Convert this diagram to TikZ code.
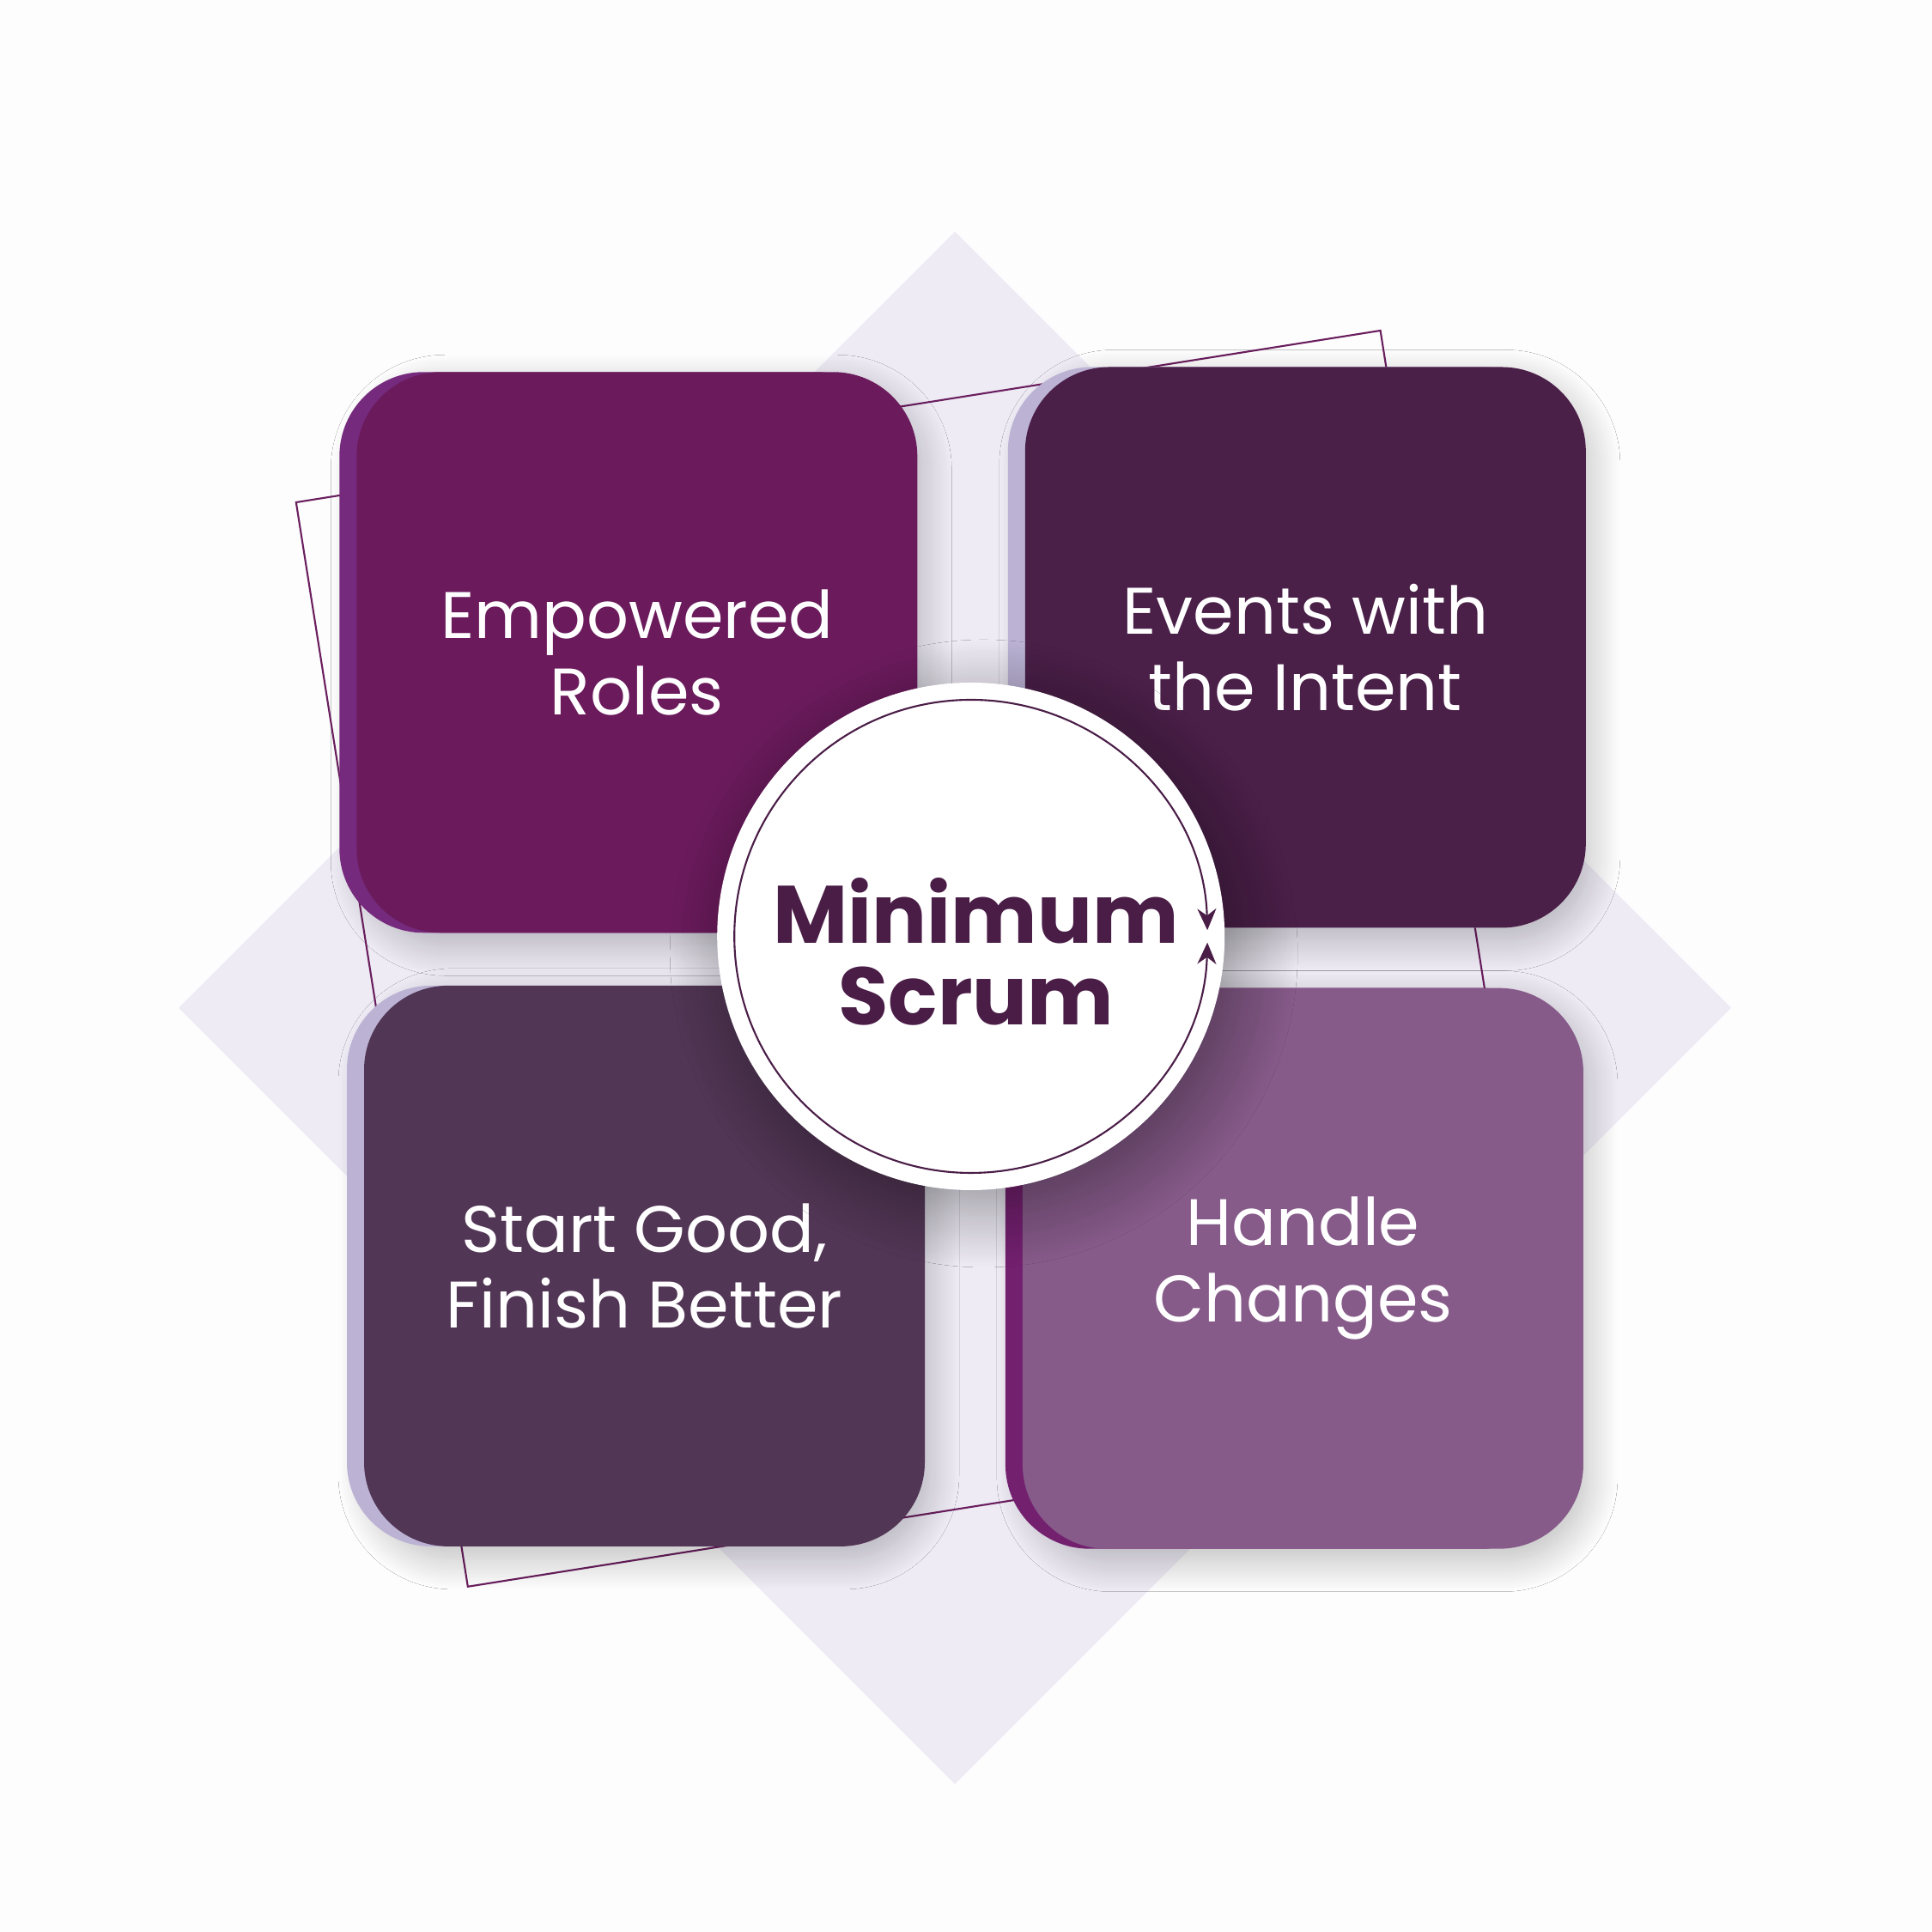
\documentclass[tikz,border=0pt]{standalone}
\usepackage{fontspec}
\setmainfont{Poppins}
\usetikzlibrary{shadows,shadows.blur,arrows.meta}

\definecolor{paper}{HTML}{FDFDFD}
\definecolor{diamondfill}{HTML}{EEEBF5}
\definecolor{frameline}{HTML}{6A1E5E}
\definecolor{corepurple}{HTML}{4A1D47}
\definecolor{rolesfill}{HTML}{6B1B5C}
\definecolor{rolesback}{HTML}{762A7D}
\definecolor{eventsfill}{HTML}{4A1F48}
\definecolor{eventsback}{HTML}{BBB2D4}
\definecolor{startfill}{HTML}{523655}
\definecolor{startback}{HTML}{BBB2D4}
\definecolor{changefill}{HTML}{865A89}
\definecolor{changeback}{HTML}{73206F}

\tikzset{
  card/.style={rectangle, rounded corners=0.98cm, minimum width=6.53cm,
    minimum height=6.53cm, text=white, align=center,
    font=\fontsize{21.8}{25.2}\selectfont,
    blur shadow={shadow xshift=0.5mm, shadow yshift=-1.5mm,
      shadow blur radius=3.5mm, shadow blur steps=20, shadow opacity=25}},
  backcard/.style={general shadow={fill=#1, shadow xshift=-2mm,
      shadow yshift=0mm}},
}

\begin{document}
\begin{tikzpicture}
  \fill[paper] (0,0) rectangle (22.5,22.5);
  \useasboundingbox (0,0) rectangle (22.5,22.5);
  % background shapes
  \fill[diamondfill] (11.121,19.802) -- (20.161,10.762) -- (11.121,1.722)
    -- (2.081,10.762) -- cycle;
  \node[draw=frameline, line width=0.6pt, minimum size=12.785cm,
    rotate=9] (frame) at (10.762,11.336) {};
  % the four cards
  \node[card, fill=rolesfill, backcard=rolesback] (roles)
    at (7.418,14.902) {Empowered\\Roles};
  \node[card, fill=eventsfill, backcard=eventsback] (events)
    at (15.203,14.960) {Events with\\the Intent};
  \node[card, fill=startfill, backcard=startback] (start)
    at (7.505,7.756) {Start Good,\\Finish Better};
  \node[card, fill=changefill, backcard=changeback] (changes)
    at (15.174,7.728) {Handle\\Changes};
  % centre
  \node[circle, fill=white, minimum size=5.91cm,
    blur shadow={shadow xshift=1.5mm, shadow yshift=-2mm,
      shadow blur radius=7mm, shadow blur steps=24, shadow opacity=40}]
    (core) at (11.307,11.595) {};
  \node[text=corepurple, align=center,
    font=\bfseries\fontsize{27}{26.9}\selectfont] (title)
    at ([xshift=0.06cm, yshift=-0.18cm]core.center) {Minimum\\Scrum};
  \draw[corepurple, line width=0.6pt,
    {Stealth[length=2.5mm,width=2.2mm,inset=0.8mm]}-{Stealth[length=2.5mm,width=2.2mm,inset=0.8mm]}]
    (core.center) ++(1.5:2.755) arc[start angle=1.5, end angle=358.5,
    radius=2.755cm];
\end{tikzpicture}
\end{document}
